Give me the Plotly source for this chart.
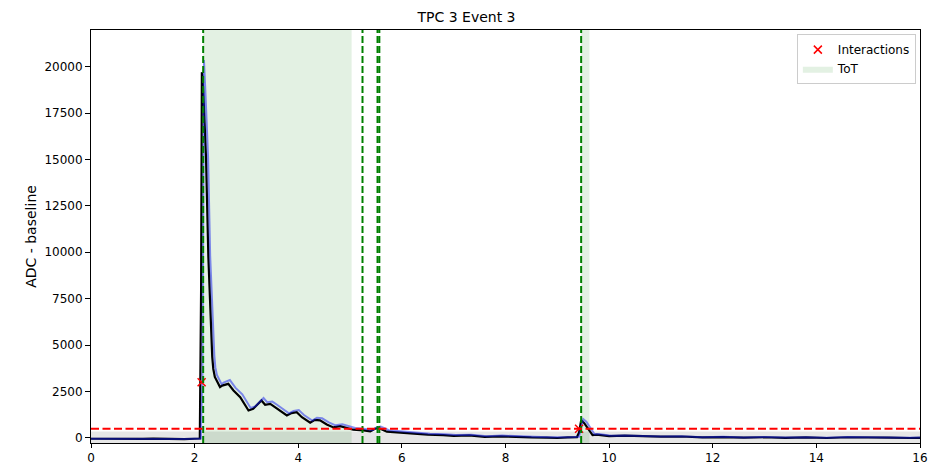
import plotly.graph_objects as go

# Waveform after baseline subtraction (black trace)
t_black = [0.0, 0.2, 0.4, 0.6, 0.8, 1.0, 1.2, 1.4, 1.6, 1.8, 2.0, 2.1,
           2.125, 2.14, 2.15, 2.18, 2.22, 2.265, 2.31, 2.34, 2.36, 2.39,
           2.49, 2.53, 2.65, 2.75, 2.88, 3.04, 3.13, 3.23, 3.29, 3.36,
           3.46, 3.55, 3.65, 3.78, 3.87, 3.97, 4.07, 4.23, 4.32, 4.42,
           4.55, 4.68, 4.81, 4.94, 5.06, 5.26, 5.39, 5.48, 5.55, 5.71,
           5.9, 6.22, 6.5, 6.8, 7.0, 7.3, 7.6, 7.9, 8.2, 8.5, 8.8, 9.0,
           9.2, 9.38, 9.42, 9.46, 9.52, 9.58, 9.63, 9.68, 9.76, 9.88,
           10.0, 10.3, 10.6, 11.0, 11.4, 11.8, 12.2, 12.6, 13.0, 13.4,
           13.8, 14.2, 14.6, 15.0, 15.4, 15.8, 16.0]
v_black = [-40, -50, -30, -60, -40, -50, -30, -50, -40, -60, -40, -30,
           8000, 19700, 19500, 17800, 15100, 9750, 6140, 4370, 3720, 3290,
           2740, 2820, 2915, 2555, 2200, 1480, 1570, 1840, 2020, 1790,
           1840, 1660, 1480, 1210, 1340, 1390, 1120, 820, 980, 950,
           730, 570, 640, 540, 445, 410, 355, 500, 535, 340,
           300, 230, 180, 150, 110, 140, 60, 90, 50, 30, 20, 0,
           30, 50, 300, 950, 800, 540, 320, 160, 180, 120,
           100, 130, 90, 70, 80, 30, 50, 20, 40, 10,
           30, 0, 40, 10, 20, 0, 10]

# Raw waveform (blue trace)
t_blue = [0.0, 0.2, 0.4, 0.6, 0.8, 1.0, 1.2, 1.4, 1.6, 1.8, 2.0, 2.12,
          2.15, 2.17, 2.18, 2.21, 2.26, 2.30, 2.35, 2.38, 2.40, 2.43,
          2.52, 2.57, 2.68, 2.79, 2.92, 3.08, 3.17, 3.27, 3.33, 3.40,
          3.50, 3.59, 3.69, 3.82, 3.91, 4.01, 4.11, 4.27, 4.36, 4.46,
          4.59, 4.72, 4.85, 4.98, 5.10, 5.30, 5.43, 5.52, 5.59, 5.75,
          5.94, 6.26, 6.54, 6.84, 7.04, 7.34, 7.64, 7.94, 8.24, 8.54,
          8.84, 9.04, 9.24, 9.42, 9.46, 9.50, 9.56, 9.62, 9.67, 9.72,
          9.80, 9.92, 10.04, 10.3, 10.6, 11.0, 11.4, 11.8, 12.2, 12.6,
          13.0, 13.4, 13.8, 14.2, 14.6, 15.0, 15.4, 15.8, 16.0]
v_blue = [-40, -45, -35, -55, -40, -45, -35, -45, -40, -55, -40, -30,
          3000, 18000, 20350, 18500, 15100, 9800, 6200, 4450, 3800, 3400,
          2900, 3000, 3120, 2700, 2350, 1620, 1700, 1980, 2150, 1930,
          1960, 1790, 1600, 1330, 1460, 1500, 1240, 940, 1090, 1060,
          840, 680, 740, 640, 540, 480, 420, 580, 620, 420,
          370, 290, 230, 200, 160, 180, 100, 130, 80, 60,
          40, 20, 40, 60, 500, 1020, 880, 620, 380, 200,
          210, 150, 120, 140, 100, 80, 90, 40, 60, 30,
          50, 20, 40, 10, 50, 20, 30, 10, 20]

# Detected interactions
t_inter = [2.135, 9.42]
v_inter = [3000, 500]

# Time-over-threshold windows (start, end)
tot_windows = [(2.16, 5.03), (9.46, 9.62)]

# Vertical markers and threshold
vlines = [2.165, 5.24, 5.53, 5.565, 9.46]
threshold = 500
noise_band = (-270, 350)

x_ticks = [0, 2, 4, 6, 8, 10, 12, 14, 16]
y_ticks = [0, 2500, 5000, 7500, 10000, 12500, 15000, 17500, 20000]

y_range = [-270, 21970]
x_range = [0, 16]

fig = go.Figure()

# ToT shaded windows
tx, ty = [], []
for a, b in tot_windows:
    tx += [a, b, b, a, a, None]
    ty += [y_range[0], y_range[0], y_range[1], y_range[1], y_range[0], None]
fig.add_trace(go.Scatter(x=tx, y=ty, mode="lines", fill="toself",
                         fillcolor="rgba(0,128,0,0.11)", line=dict(width=0),
                         name="ToT", hoverinfo="skip"))

fig.add_trace(go.Scatter(x=t_black, y=v_black, mode="lines",
                         line=dict(color="black", width=2.2),
                         showlegend=False))
fig.add_trace(go.Scatter(x=t_blue, y=v_blue, mode="lines",
                         line=dict(color="rgba(20,30,240,0.5)", width=2),
                         showlegend=False))

fig.add_trace(go.Scatter(x=t_inter, y=v_inter, mode="markers",
                         marker=dict(symbol="x-thin", size=8, color="red",
                                     line=dict(color="red", width=1.5)),
                         name="Interactions"))

# Noise band
fig.add_shape(type="rect", xref="x", yref="y", x0=x_range[0], x1=x_range[1],
              y0=noise_band[0], y1=noise_band[1],
              fillcolor="rgba(128,128,128,0.2)", line=dict(width=0),
              layer="below")

for xv in vlines:
    fig.add_shape(type="line", xref="x", yref="paper", x0=xv, x1=xv, y0=0, y1=1,
                  line=dict(color="green", width=2, dash="7px,3px"), layer="above")

fig.add_shape(type="line", xref="paper", yref="y", x0=0, x1=1,
              y0=threshold, y1=threshold,
              line=dict(color="red", width=2, dash="8px,3.5px"), layer="above")

fig.update_layout(
    width=933, height=465,
    margin=dict(l=91, r=13, t=30, b=22),
    paper_bgcolor="white", plot_bgcolor="white",
    font=dict(family="DejaVu Sans", size=12, color="black"),
    title=dict(text="TPC 3 Event 3", x=0.5, xanchor="center",
               y=1 - 17 / 465, yanchor="middle", font=dict(size=14)),
    showlegend=True,
    legend=dict(x=0.995, y=0.99, xanchor="right", yanchor="top",
                bgcolor="white", bordercolor="#cccccc", borderwidth=1,
                font=dict(size=12), traceorder="reversed",
                itemwidth=30, tracegroupgap=0),
    xaxis=dict(range=x_range, tickvals=x_ticks,
               ticktext=[str(v) for v in x_ticks], automargin=False,
               showgrid=False, zeroline=False, showline=True, linecolor="black",
               linewidth=1, mirror=True, ticks="outside", ticklen=4,
               tickcolor="black"),
    yaxis=dict(range=y_range, tickvals=y_ticks,
               ticktext=[str(v) for v in y_ticks], automargin=False,
               showgrid=False, zeroline=False, showline=True, linecolor="black",
               linewidth=1, mirror=True, ticks="outside", ticklen=5,
               tickcolor="black",
               title=dict(text="ADC - baseline", standoff=4)),
)

fig.write_html("out.html")
